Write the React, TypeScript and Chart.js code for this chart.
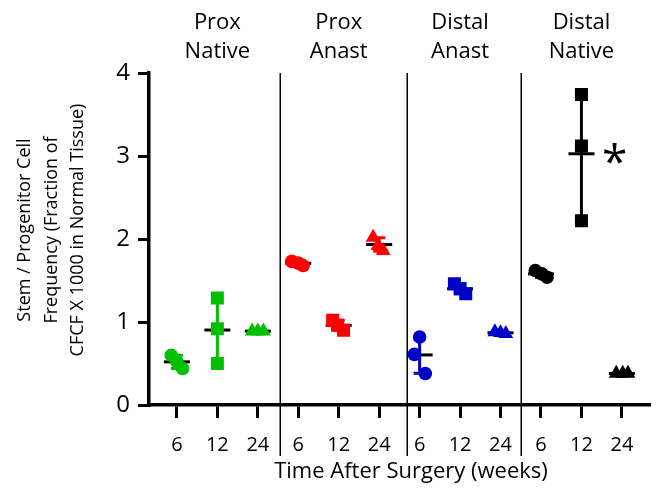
import React, { useEffect, useRef } from "react";
import { Chart, registerables } from "chart.js";

Chart.register(...registerables);

// ---- Data ----
const groupNames = [["Prox", "Native"], ["Prox", "Anast"], ["Distal", "Anast"], ["Distal", "Native"]];
const weekLabels = ["6", "12", "24"];
const groupColors = ["#00c000", "#ff0000", "#0000c8", "#000000"];
const weekStyles = ["circle", "rect", "triangle"];

const proxNative6 = [0.6, 0.52, 0.44];
const proxNative12 = [1.29, 0.92, 0.5];
const proxNative24 = [0.89, 0.89, 0.89];
const proxAnast6 = [1.73, 1.71, 1.68];
const proxAnast12 = [1.02, 0.96, 0.9];
const proxAnast24 = [2.02, 1.92, 1.86];
const distalAnast6 = [0.82, 0.61, 0.38];
const distalAnast12 = [1.46, 1.4, 1.34];
const distalAnast24 = [0.88, 0.87, 0.86];
const distalNative6 = [1.62, 1.58, 1.54];
const distalNative12 = [3.74, 3.12, 2.22];
const distalNative24 = [0.38, 0.38, 0.38];

const allValues = [
  proxNative6, proxNative12, proxNative24,
  proxAnast6, proxAnast12, proxAnast24,
  distalAnast6, distalAnast12, distalAnast24,
  distalNative6, distalNative12, distalNative24,
];

// horizontal scatter of replicate points (style)
const jitterStd = [-0.14, 0, 0.14];
const jitterNone = [0, 0, 0];
const jitters = [
  jitterStd, jitterNone, jitterStd,
  [-0.16, 0, 0.12], [-0.15, -0.03, 0.12], [-0.15, -0.03, 0.1],
  [0, -0.13, 0.14], jitterStd, [-0.14, 0, 0.13],
  [-0.14, 0.02, 0.15], jitterNone, [-0.14, 0.02, 0.15],
];

const separatorPositions = [2.55, 5.68, 8.51];
const significance = { label: "*", x: 10.82, y: 3.03 };
const xTitle = "Time After Surgery (weeks)";
const yTitleLines = ["Stem / Progenitor Cell", "Frequency (Fraction of", "CFCF X 1000 in Normal Tissue)"];

const FONT = "'Open Sans', 'DejaVu Sans', sans-serif";

function mean(a: number[]) {
  return a.reduce((s, v) => s + v, 0) / a.length;
}
function sd(a: number[]) {
  const m = mean(a);
  return Math.sqrt(a.reduce((s, v) => s + (v - m) * (v - m), 0) / (a.length - 1));
}

const overlay = {
  id: "overlay",
  beforeDatasetsDraw(chart: any) {
    const { ctx, scales } = chart;
    const x = scales.x, y = scales.y;
    allValues.forEach((vals, i) => {
      const color = groupColors[Math.floor(i / 3)];
      const m = mean(vals), s = sd(vals);
      const px = x.getPixelForValue(i);
      const yTop = y.getPixelForValue(m + s);
      const yBot = y.getPixelForValue(m - s);
      const ym = y.getPixelForValue(m);
      ctx.save();
      ctx.strokeStyle = color;
      ctx.lineWidth = 3;
      ctx.beginPath();
      ctx.moveTo(px, yTop);
      ctx.lineTo(px, yBot);
      ctx.moveTo(px - 6, yTop);
      ctx.lineTo(px + 6, yTop);
      ctx.moveTo(px - 6, yBot);
      ctx.lineTo(px + 6, yBot);
      ctx.stroke();
      ctx.strokeStyle = "#000";
      ctx.beginPath();
      ctx.moveTo(px - 13, ym);
      ctx.lineTo(px + 13, ym);
      ctx.stroke();
      ctx.restore();
    });
  },
  afterDraw(chart: any) {
    const { ctx, scales, chartArea } = chart;
    const x = scales.x, y = scales.y;
    ctx.save();
    // separators
    ctx.strokeStyle = "#000";
    ctx.lineWidth = 1.5;
    separatorPositions.forEach((p) => {
      const px = Math.round(x.getPixelForValue(p)) + 0.25;
      ctx.beginPath();
      ctx.moveTo(px, chartArea.top);
      ctx.lineTo(px, 456);
      ctx.stroke();
    });
    ctx.fillStyle = "#000";
    // group labels
    ctx.font = `22px ${FONT}`;
    ctx.textAlign = "center";
    ctx.textBaseline = "middle";
    groupNames.forEach((lines, g) => {
      const px = x.getPixelForValue(g * 3 + 1);
      ctx.fillText(lines[0], px, 23);
      ctx.fillText(lines[1], px, 52);
    });
    // x title
    ctx.font = `22px ${FONT}`;
    ctx.fillText(xTitle, 411, 472);
    // y title
    ctx.font = `18px ${FONT}`;
    const yLineX = [25, 52, 78];
    yTitleLines.forEach((t, i) => {
      ctx.save();
      ctx.translate(yLineX[i], 230);
      ctx.rotate(-Math.PI / 2);
      ctx.fillText(t, 0, 0);
      ctx.restore();
    });
    // significance
    ctx.font = `46px ${FONT}`;
    ctx.textBaseline = "alphabetic";
    const mt = ctx.measureText(significance.label);
    const sx = x.getPixelForValue(significance.x);
    const sy = y.getPixelForValue(significance.y);
    ctx.fillText(
      significance.label,
      sx,
      sy + (mt.actualBoundingBoxAscent - mt.actualBoundingBoxDescent) / 2
    );
    ctx.restore();
  },
};

export default function App() {
  const ref = useRef<HTMLCanvasElement | null>(null);
  useEffect(() => {
    document.body.style.margin = "0";
    const canvas = ref.current;
    if (!canvas) return;
    const datasets = allValues.map((vals, i) => ({
      label: `${groupNames[Math.floor(i / 3)].join(" ")} ${weekLabels[i % 3]}`,
      data: vals.map((v, k) => ({ x: i + jitters[i][k], y: v })),
      pointStyle: weekStyles[i % 3],
      pointRadius: [6.8, 9.2, 8.6][i % 3],
      pointBackgroundColor: groupColors[Math.floor(i / 3)],
      pointBorderColor: groupColors[Math.floor(i / 3)],
      pointBorderWidth: 0,
      showLine: false,
    }));
    const chart = new Chart(canvas, {
      type: "scatter",
      data: { datasets },
      options: {
        animation: false,
        responsive: false,
        maintainAspectRatio: false,
        layout: { padding: { top: 73, right: 8, left: 0, bottom: 0 } },
        plugins: { legend: { display: false }, tooltip: { enabled: false } },
        scales: {
          x: {
            type: "linear",
            min: -0.69,
            max: 11.69,
            afterBuildTicks: (scale: any) => {
              scale.ticks = allValues.map((_, i) => ({ value: i }));
            },
            afterFit: (scale: any) => {
              scale.height = 84;
            },
            ticks: {
              autoSkip: false,
              maxRotation: 0,
              padding: 15,
              color: "#000",
              font: { family: FONT, size: 20 },
              callback: (v: any) => weekLabels[Math.round(Number(v)) % 3],
            },
            grid: { drawOnChartArea: false, tickLength: 13, lineWidth: 3, color: "#000" },
            border: { width: 3.5, color: "#000" },
          },
          y: {
            min: 0,
            max: 4,
            afterFit: (scale: any) => {
              scale.width = 149;
            },
            ticks: {
              stepSize: 1,
              padding: 8,
              color: "#000",
              font: { family: FONT, size: 24 },
            },
            grid: { drawOnChartArea: false, tickLength: 11, lineWidth: 3, color: "#000" },
            border: { width: 3.5, color: "#000" },
          },
        },
      },
      plugins: [overlay],
    } as any);
    return () => chart.destroy();
  }, []);
  return <canvas ref={ref} width={659} height={489} style={{ display: "block", width: 659, height: 489 }} />;
}
